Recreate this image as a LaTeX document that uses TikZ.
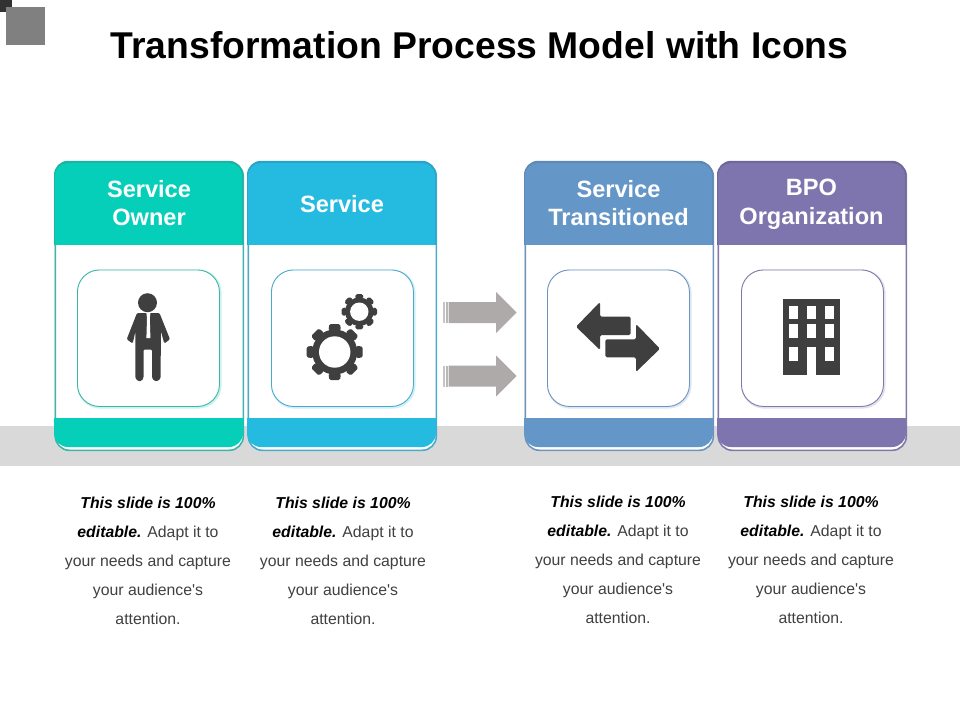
\documentclass[tikz,border=0pt]{standalone}
\usepackage{fontspec}
\setmainfont[Ligatures=TeXOff]{Liberation Sans}
\definecolor{ink}{HTML}{3F3F3F}
\definecolor{bodytxt}{HTML}{404040}
\definecolor{arrowgray}{HTML}{AEAAAA}
\definecolor{tealF}{HTML}{05CFB8}\definecolor{tealB}{HTML}{3DB5A8}\definecolor{tealT}{HTML}{1CB3A2}
\definecolor{blueF}{HTML}{25BBE0}\definecolor{blueB}{HTML}{4BA9CC}\definecolor{blueT}{HTML}{2AA3C8}
\definecolor{steelF}{HTML}{6496C8}\definecolor{steelB}{HTML}{6F94BC}\definecolor{steelT}{HTML}{5F89B5}
\definecolor{purpF}{HTML}{7E74AE}\definecolor{purpB}{HTML}{8079A8}\definecolor{purpT}{HTML}{6E6799}
\tikzset{
  titletext/.style={font=\fontsize{37.3}{40}\selectfont\bfseries,text=black,inner sep=0pt},
  headtext/.style={font=\fontsize{23.6}{28.5}\selectfont\bfseries,text=white,align=center,inner sep=0pt},
  bodytext/.style={font=\fontsize{15.8}{29}\selectfont,text=bodytxt,align=center,inner sep=0pt},
  flow/.style={fill=arrowgray,draw=none},
}
\newcommand{\keyphrase}[1]{{\bfseries\itshape\color{black}#1}}
\newcommand{\blurb}{\keyphrase{This slide is 100\%}\\\keyphrase{editable.} Adapt it to\\your needs and capture\\your audience's\\attention.}
% name, left x, fill, border, top colour, icon box left x
\newcommand{\tcard}[6]{%
  \fill[black!12,opacity=.6,rounded corners=14] (#2,163) rectangle (#2+189.5,451.5);
  \node[draw=#4,fill=white,line width=1.6,rounded corners=14,minimum width=188,minimum height=288,inner sep=0pt,anchor=north west] (#1) at (#2+.5,161.5) {};
  \begin{scope}
    \clip (#2-2,150) rectangle (#2+191,244.6);
    \fill[#5,rounded corners=14] (#2,160.8) rectangle (#2+189,300);
    \fill[#3,rounded corners=13] (#2+.8,163.2) rectangle (#2+188.2,300);
  \end{scope}
  \begin{scope}
    \clip (#2-2,418) rectangle (#2+191,460);
    \fill[#3,rounded corners=14] (#2,300) rectangle (#2+189,447);
  \end{scope}
  \node[draw=#3!22!white,line width=2.6,rounded corners=22,minimum width=142,minimum height=136.5,inner sep=0pt,anchor=north west] at (#6,269.5) {};
  \node[draw=#4,fill=white,line width=.9,rounded corners=22,minimum width=142,minimum height=136.5,inner sep=0pt,anchor=north west] (#1icon) at (#6,269.5) {};
}
\begin{document}
\begin{tikzpicture}[x=1pt,y=-1pt]
\useasboundingbox (0,0) rectangle (960,720);
\fill[white] (0,0) rectangle (960,720);
% corner marks
\fill[ink!80!black] (0,0) rectangle (12,12);
\fill[gray] (6,7) rectangle (45,45);
% title
\node[titletext] (title) at (479.5,45) {Transformation Process Model with Icons};
% band
\fill[black!15] (0,426) rectangle (960,466);
% cards
\tcard{c1}{54}{tealF}{tealB}{tealT}{77}
\tcard{c2}{247}{blueF}{blueB}{blueT}{271}
\tcard{c3}{524}{steelF}{steelB}{steelT}{547}
\tcard{c4}{717}{purpF}{purpB}{purpT}{741}
% heads
\node[headtext] (h1) at (149,203) {Service\\Owner};
\node[headtext] (h2) at (342,204) {Service};
\node[headtext] (h3) at (618.5,203) {Service\\Transitioned};
\node[headtext] (h4) at (811.5,204.5) {BPO\\Organization};
% person
\fill[ink] (147.5,302.7) circle (9.5);
\fill[ink,rounded corners=1.2] (137,313) -- (159.5,313) -- (170,339.3) -- (164.3,343.5) -- (160.8,331) -- (160.7,378) -- (158,381) -- (154.5,381) -- (152,378) -- (152,349.5) -- (143.5,349.5) -- (143.5,378) -- (141.5,381) -- (137.8,381) -- (135.3,378) -- (135.5,331) -- (132.7,343.5) -- (126.7,339.3) -- cycle;
\fill[white] (146.4,313) -- (150.4,313) -- (149.8,318) -- (150.4,338) -- (146.4,338) -- (147,318) -- cycle;
% gears
\foreach \gx/\gy/\ro/\rr/\rh/\tw in {334.7/352/28/22.5/15.7/5.4,359.3/311.7/17.7/14.2/9.2/3.5}{
  \foreach \k in {0,45,...,315}{
    \begin{scope}[shift={(\gx,\gy)},rotate=\k]
      \fill[ink,rounded corners=1.5] (\rr-1,-\tw-.8) -- (\ro,-\tw) -- (\ro,\tw) -- (\rr-1,\tw+.8) -- cycle;
    \end{scope}
  }
  \fill[ink] (\gx,\gy) circle (\rr);
  \fill[white] (\gx,\gy) circle (\rh);
}
% exchange arrows
\fill[ink,rounded corners=1.5] (576,326.7) -- (600,302) -- (600,316.7) -- (630.7,316.7) -- (630.7,335) -- (600,335) -- (600,350) -- cycle;
\fill[ink,rounded corners=1.5] (660,348.7) -- (636,324) -- (636,339.3) -- (605.3,339.3) -- (605.3,357.3) -- (636,357.3) -- (636,372) -- cycle;
% building
\fill[ink] (783,299) rectangle (840,375);
\foreach \wx in {789,806.7,824.7}{
  \fill[white] (\wx,306) rectangle +(9.3,13.3);
  \fill[white] (\wx,324) rectangle +(9.3,14);
}
\fill[white] (789,347.3) rectangle +(9.3,13.7);
\fill[white] (824.7,347.3) rectangle +(9.3,13.7);
\fill[white] (806.7,347.3) rectangle (816,375);
% block arrows
\foreach \ay in {312.5,376}{
  \fill[arrowgray!70!white] (443.3,\ay-10.5) rectangle (445,\ay+10.5);
  \fill[arrowgray!85!white] (446,\ay-10.5) rectangle (447.7,\ay+10.5);
  \fill[flow] (448.7,\ay-10.5) -- (496,\ay-10.5) -- (496,\ay-20.5) -- (516.5,\ay) -- (496,\ay+20.5) -- (496,\ay+10.5) -- (448.7,\ay+10.5) -- cycle;
}
% body texts
\node[bodytext] (t1) at (148,560.5) {\blurb};
\node[bodytext] (t2) at (343,560.5) {\blurb};
\node[bodytext] (t3) at (618,559.5) {\blurb};
\node[bodytext] (t4) at (811,559.5) {\blurb};
\end{tikzpicture}
\end{document}
